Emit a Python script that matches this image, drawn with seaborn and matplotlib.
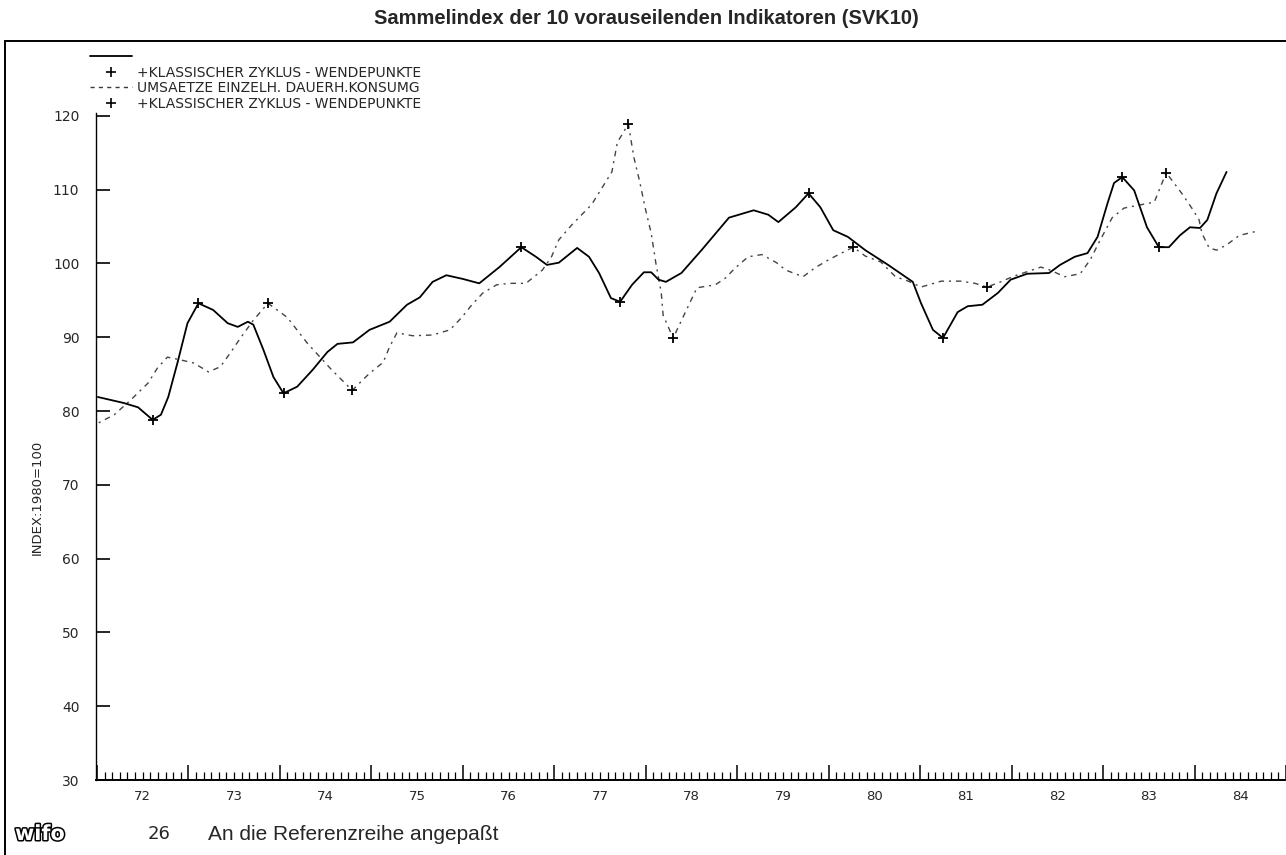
import numpy as np
import pandas as pd
import matplotlib
matplotlib.use("Agg")
import matplotlib.pyplot as plt
import matplotlib.ticker as mticker
import matplotlib.patheffects as pe
from matplotlib.lines import Line2D
from matplotlib.patches import Rectangle
import seaborn as sns

# ---------------- data ----------------
title = "Sammelindex der 10 vorauseilenden Indikatoren (SVK10)"
ylabel = "INDEX:1980=100"
legend_tp = "+KLASSISCHER ZYKLUS - WENDEPUNKTE"
legend_ums = "UMSAETZE EINZELH. DAUERH.KONSUMG"
footer_num = "26"
footer_text = "An die Referenzreihe angepaßt"

years = list(range(1972, 1985))
year_labels = [str(y)[2:] for y in years]
y_ticks = [30, 40, 50, 60, 70, 80, 90, 100, 110, 120]

# SVK10 (solid line)
svk_t = [1972.01, 1972.29, 1972.45, 1972.61, 1972.70, 1972.78, 1972.88, 1972.99,
         1973.11, 1973.27, 1973.43, 1973.54, 1973.65, 1973.71, 1973.82, 1973.93,
         1974.04, 1974.19, 1974.36, 1974.52, 1974.63, 1974.80, 1974.98, 1975.20,
         1975.39, 1975.53, 1975.67, 1975.82, 1976.00, 1976.18, 1976.40, 1976.64,
         1976.80, 1976.92, 1977.05, 1977.25, 1977.38, 1977.49, 1977.62, 1977.72,
         1977.85, 1977.98, 1978.06, 1978.14, 1978.22, 1978.39, 1978.61, 1978.91,
         1979.18, 1979.34, 1979.45, 1979.64, 1979.78, 1979.91, 1980.05, 1980.21,
         1980.40, 1980.65, 1980.92, 1981.01, 1981.14, 1981.25, 1981.41, 1981.52,
         1981.68, 1981.85, 1981.99, 1982.17, 1982.41, 1982.53, 1982.69, 1982.83,
         1982.94, 1983.05, 1983.12, 1983.21, 1983.34, 1983.48, 1983.61, 1983.72,
         1983.84, 1983.95, 1984.06, 1984.14, 1984.24, 1984.35]
svk_v = [81.9, 81.1, 80.5, 78.8, 79.5, 81.9, 86.5, 91.9,
         94.6, 93.7, 91.9, 91.4, 92.1, 91.7, 88.3, 84.6,
         82.4, 83.3, 85.6, 88.0, 89.1, 89.3, 91.0, 92.1,
         94.4, 95.4, 97.5, 98.4, 97.9, 97.3, 99.5, 102.2,
         100.9, 99.8, 100.1, 102.1, 100.9, 98.7, 95.3, 94.8,
         97.1, 98.8, 98.8, 97.8, 97.5, 98.7, 101.8, 106.2,
         107.2, 106.6, 105.6, 107.6, 109.5, 107.6, 104.5, 103.6,
         101.8, 99.8, 97.5, 94.6, 91.0, 89.9, 93.4, 94.2,
         94.4, 96.0, 97.8, 98.6, 98.7, 99.8, 100.9, 101.4,
         103.6, 108.2, 110.9, 111.7, 109.9, 104.9, 102.2, 102.2,
         103.8, 104.9, 104.8, 105.9, 109.5, 112.4]

# SVK10 turning points
svk_tp_t = [1972.61, 1973.11, 1974.04, 1976.64, 1977.72, 1979.78, 1981.25, 1983.21, 1983.61]
svk_tp_v = [78.8, 94.6, 82.4, 102.2, 94.8, 109.5, 89.9, 111.7, 102.2]

# Umsaetze Einzelhandel dauerhafte Konsumgueter (dotted line)
ums_t = [1972.02, 1972.19, 1972.37, 1972.56, 1972.66, 1972.77, 1972.89, 1973.06,
         1973.22, 1973.35, 1973.46, 1973.57, 1973.71, 1973.87, 1974.08, 1974.30,
         1974.44, 1974.55, 1974.79, 1974.98, 1975.13, 1975.20, 1975.28, 1975.45,
         1975.67, 1975.86, 1975.99, 1976.10, 1976.22, 1976.37, 1976.51, 1976.69,
         1976.87, 1976.97, 1977.05, 1977.19, 1977.41, 1977.63, 1977.69, 1977.81,
         1977.87, 1977.93, 1978.00, 1978.06, 1978.11, 1978.17, 1978.19, 1978.30,
         1978.56, 1978.76, 1978.87, 1978.98, 1979.12, 1979.27, 1979.43, 1979.53,
         1979.72, 1979.85, 1980.00, 1980.14, 1980.27, 1980.40, 1980.57, 1980.73,
         1980.87, 1981.01, 1981.23, 1981.44, 1981.60, 1981.73, 1981.88, 1982.03,
         1982.32, 1982.42, 1982.58, 1982.75, 1982.86, 1982.97, 1983.10, 1983.23,
         1983.39, 1983.56, 1983.69, 1983.86, 1983.97, 1984.05, 1984.08, 1984.16,
         1984.24, 1984.35, 1984.49, 1984.66]
ums_v = [78.4, 79.5, 81.5, 83.8, 85.8, 87.3, 87.0, 86.5,
         85.3, 86.0, 87.9, 89.9, 92.3, 94.6, 92.7, 89.2,
         87.3, 85.8, 82.8, 85.1, 86.6, 88.7, 90.6, 90.2,
         90.3, 91.0, 92.7, 94.4, 96.0, 97.1, 97.3, 97.3,
         99.1, 100.9, 103.2, 105.2, 108.0, 112.4, 116.4, 118.9,
         114.4, 111.3, 107.2, 104.1, 100.1, 96.0, 93.0, 89.9,
         96.7, 97.1, 98.0, 99.4, 100.9, 101.2, 100.1, 99.1,
         98.2, 99.4, 100.5, 101.4, 102.2, 101.0, 100.2, 98.2,
         97.6, 96.8, 97.6, 97.6, 97.3, 96.8, 97.5, 98.3,
         99.5, 99.1, 98.2, 98.6, 100.5, 103.2, 106.2, 107.5,
         107.9, 108.3, 112.3, 109.5, 107.5, 105.9, 104.1, 102.1,
         101.8, 102.5, 103.8, 104.3]

# Umsaetze turning points
ums_tp_t = [1973.87, 1974.79, 1977.81, 1978.30, 1980.27, 1981.73, 1983.69]
ums_tp_v = [94.6, 82.8, 118.9, 89.9, 102.2, 96.8, 112.3]

# ---------------- figure ----------------
sns.set_theme(style="white")
plt.rcParams["font.family"] = ["DejaVu Sans"]

W, H = 1286, 855
fig = plt.figure(figsize=(W / 100, H / 100), dpi=100)
fig.patch.set_facecolor("white")

ax = fig.add_axes([96 / W, (H - 780) / H, (W - 96) / W, (780 - 41) / H])
ax.set_facecolor("white")

dotted = (0, (1.5, 3.5, 4, 3.5))
sns.lineplot(x=ums_t, y=ums_v, ax=ax, color="#444444", lw=1.0, linestyle=dotted,
             sort=False, estimator=None)
sns.lineplot(x=svk_t, y=svk_v, ax=ax, color="black", lw=1.3,
             sort=False, estimator=None)
sns.scatterplot(x=svk_tp_t, y=svk_tp_v, ax=ax, marker="+", s=55, color="black",
                linewidth=1.3, zorder=5)
sns.scatterplot(x=ums_tp_t, y=ums_tp_v, ax=ax, marker="+", s=55, color="black",
                linewidth=1.3, zorder=5)

ax.set_xlim(1971.99, 1984.95)
ax.set_ylim(30, 130.14)

# spines
for s in ["top", "right"]:
    ax.spines[s].set_visible(False)
ax.spines["left"].set_bounds(30, 120.4)
ax.spines["left"].set_color("black")
ax.spines["left"].set_linewidth(1.0)
ax.spines["bottom"].set_color("black")
ax.spines["bottom"].set_linewidth(1.4)

# y axis
ax.set_yticks(y_ticks)
ax.set_yticklabels([str(v) for v in y_ticks])
ax.tick_params(axis="y", direction="in", length=10, width=1.2, color="black",
               labelsize=10, pad=12, left=True)
ax.set_ylabel(ylabel, fontsize=9.5)
ax.yaxis.set_label_coords(-52 / 1190, (780 - 497) / 739)

# x axis: year-boundary ticks + monthly minor ticks; labels at mid-year (secondary axis)
ax.set_xticks(years + [years[-1] + 1])
ax.set_xticklabels([""] * (len(years) + 1))
ax.xaxis.set_minor_locator(mticker.FixedLocator(
    [y + m / 12 for y in years for m in range(1, 12)]))
ax.tick_params(axis="x", which="major", direction="in", length=11, width=1.1,
               color="black", bottom=True)
ax.tick_params(axis="x", which="minor", direction="in", length=6, width=0.9,
               color="black", bottom=True)
sec = ax.secondary_xaxis("bottom")
sec.set_xticks([y + 0.5 for y in years])
sec.set_xticklabels(year_labels)
sec.tick_params(axis="x", length=0, labelsize=9.5, pad=7)
sec.spines["bottom"].set_visible(False)
ax.grid(False)

# legend
h_solid = Line2D([], [], color="black", lw=1.3)
h_tp = Line2D([], [], color="black", ls="none", marker="+", ms=7, mew=1.2)
h_ums = Line2D([], [], color="#3a3a3a", lw=1.0, ls=(0, (3, 3)))
fig.legend([h_solid, h_tp, h_ums, h_tp], [" ", legend_tp, legend_ums, legend_tp],
           loc="upper left", bbox_to_anchor=(90 / W, 1 - 50 / H),
           bbox_transform=fig.transFigure, frameon=False, fontsize=10,
           borderpad=0, borderaxespad=0, handlelength=3.0, handletextpad=0.4,
           labelspacing=0.12)

# title
fig.text(0.503, 1 - 18 / H, title, ha="center", va="center", fontsize=14.5,
         fontweight="bold", family="Liberation Sans")

# outer frame (top and left borders)
fig.add_artist(Rectangle((5 / W, -0.1), 1.2, 1.1 - 41 / H, transform=fig.transFigure,
                         fill=False, edgecolor="black", lw=1.4))

# footer
fig.text(15 / W, 1 - 834 / H, "wifo", ha="left", va="center", fontsize=15,
         fontweight="bold", color="white", family="DejaVu Sans",
         path_effects=[pe.withStroke(linewidth=2.2, foreground="black")])
fig.text(148 / W, 1 - 834 / H, footer_num, ha="left", va="center", fontsize=13,
         family="DejaVu Sans")
fig.text(208 / W, 1 - 834 / H, footer_text, ha="left", va="center", fontsize=15,
         family="Liberation Sans")

fig.savefig("out.png", dpi=100, facecolor="white")
